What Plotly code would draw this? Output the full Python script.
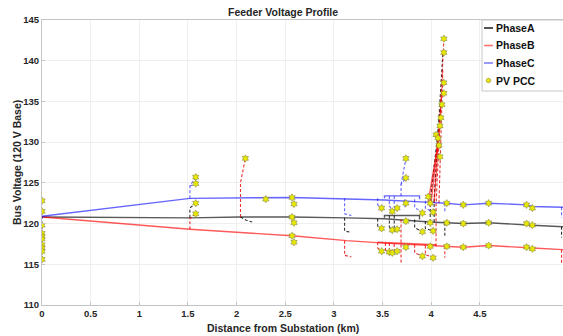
import plotly.graph_objects as go

# ---------------- data (km, volts on 120 V base) ----------------
trunkA_x = [0, 1.52, 2.04, 2.57, 3.13, 3.52, 3.99, 4.16, 4.33, 4.59, 4.98, 5.04, 5.36]
trunkA_v = [120.8, 120.7, 120.8, 120.8, 120.7, 120.6, 120.2, 120.1, 120.0, 120.1, 119.9, 119.8, 119.6]
trunkB_x = [0, 1.52, 2.57, 3.13, 3.52, 3.99, 4.16, 4.33, 4.59, 4.98, 5.04, 5.36]
trunkB_v = [120.8, 119.3, 118.5, 117.9, 117.6, 117.3, 117.2, 117.1, 117.3, 117.1, 117.0, 116.8]
trunkC_x = [0, 1.52, 2.57, 3.11, 3.52, 3.99, 4.16, 4.33, 4.59, 4.98, 5.04, 5.36]
trunkC_v = [120.9, 123.1, 123.2, 123.0, 122.9, 122.6, 122.5, 122.3, 122.5, 122.3, 122.1, 122.0]

# extra solid sections (parallel laterals)
solidA = [[(3.52, 120.7), (3.52, 121.0), (3.88, 121.0), (3.88, 120.5)]]
solidB = [[(3.45, 117.7), (4.05, 117.4)],
          [(3.97, 122.7), (4.08, 130.5)],
          [(4.00, 122.7), (4.09, 132.5)],
          [(4.03, 122.5), (4.11, 136.5)]]
solidC = [[(3.52, 123.1), (3.52, 123.4), (3.88, 123.4), (3.88, 123.0)]]

# dashed laterals
dashA = [[(1.52, 120.7), (1.52, 121.9), (1.58, 122.5)],
         [(2.04, 120.8), (2.10, 120.4), (2.16, 120.2)],
         [(3.11, 120.7), (3.11, 119.1), (3.18, 118.9)],
         [(3.45, 120.6), (3.45, 119.6), (3.49, 119.3)],
         [(3.57, 121.0), (3.57, 119.6), (3.60, 119.2)],
         [(3.62, 121.0), (3.62, 119.5), (3.65, 119.2)],
         [(3.83, 120.5), (3.83, 119.5), (3.91, 119.0)],
         [(3.94, 120.3), (3.94, 119.4), (4.02, 119.1)],
         [(3.99, 120.2), (3.99, 122.8), (4.11, 135.5)],
         [(4.03, 120.2), (4.03, 123.0), (4.12, 141.0)],
         [(4.14, 120.1), (4.14, 118.5)],
         [(5.34, 119.6), (5.34, 118.3)]]
dashB = [[(1.52, 119.3), (1.52, 120.6), (1.58, 121.2)],
         [(2.04, 120.8), (2.04, 125.0), (2.09, 128.0)],
         [(3.11, 117.9), (3.11, 116.1), (3.18, 115.9)],
         [(3.45, 117.7), (3.45, 117.0), (3.49, 116.6)],
         [(3.53, 117.6), (3.53, 116.5), (3.57, 116.5)],
         [(3.57, 117.6), (3.57, 116.8), (3.60, 116.4)],
         [(3.62, 117.5), (3.62, 116.7), (3.65, 116.6)],
         [(3.69, 120.5), (3.69, 115.2)],
         [(3.83, 117.4), (3.83, 116.4), (3.91, 116.0)],
         [(3.94, 117.3), (3.94, 116.2), (4.02, 115.8)],
         [(4.05, 117.2), (4.05, 122.3), (4.13, 142.7)],
         [(4.08, 122.5), (4.12, 139.0)],
         [(4.14, 117.2), (4.14, 115.8)],
         [(5.34, 116.8), (5.34, 115.1)]]
dashC = [[(0, 120.9), (0, 115.3)],
         [(1.52, 123.1), (1.52, 124.6), (1.58, 125.7)],
         [(1.52, 124.6), (1.58, 124.9)],
         [(3.11, 123.1), (3.11, 121.2), (3.18, 121.0)],
         [(3.45, 123.1), (3.45, 122.3), (3.49, 121.9)],
         [(3.57, 123.4), (3.57, 122.2), (3.60, 121.5)],
         [(3.62, 123.4), (3.62, 122.0), (3.65, 121.7)],
         [(3.73, 123.0), (3.73, 122.0)],
         [(3.69, 123.4), (3.69, 124.8), (3.74, 125.6)],
         [(3.69, 124.8), (3.74, 128.0)],
         [(3.83, 123.0), (3.83, 122.0), (3.91, 121.3)],
         [(3.94, 122.8), (3.94, 121.9), (4.02, 121.4)],
         [(4.14, 122.5), (4.14, 121.3)],
         [(5.34, 122.0), (5.34, 120.7)]]

# PV point-of-common-coupling buses
pv_x = [0, 0, 0, 0, 0, 0, 0, 0, 0, 0,
        1.58, 1.58, 1.58, 1.58, 2.09, 2.30,
        2.57, 2.57, 2.57, 2.59, 2.59, 2.59,
        3.49, 3.49, 3.49, 3.57, 3.60, 3.60, 3.60, 3.65, 3.65, 3.65,
        3.74, 3.74, 3.74, 3.74, 3.74,
        3.91, 3.91, 3.91, 4.02, 4.02, 4.02,
        3.97, 3.99, 3.99, 3.99,
        4.16, 4.16, 4.16, 4.33, 4.33, 4.33, 4.59, 4.59, 4.59,
        4.98, 4.98, 4.98, 5.04, 5.04, 5.04,
        4.13, 4.13, 4.13, 4.13, 4.11, 4.10, 4.09, 4.05, 4.07, 4.08, 4.09]
pv_v = [122.8, 121.5, 119.8, 118.8, 118.4, 118.1, 117.4, 117.0, 116.6, 115.6,
        125.7, 124.9, 122.5, 121.2, 128.0, 123.0,
        123.2, 120.8, 118.5, 122.4, 120.1, 117.7,
        121.9, 119.4, 116.6, 116.5, 121.5, 119.2, 116.4, 121.9, 119.3, 116.6,
        128.0, 125.6, 122.5, 120.3, 117.1,
        121.3, 119.0, 116.0, 121.4, 119.1, 115.8,
        123.3, 122.5, 120.1, 117.2,
        122.5, 120.1, 117.2, 122.3, 120.0, 117.1, 122.5, 120.1, 117.3,
        122.3, 120.0, 117.1, 121.9, 119.8, 116.9,
        142.7, 141.0, 137.3, 136.0, 134.6, 133.0, 132.0, 130.9, 130.5, 129.6, 128.2]

x_ticks = [0, 0.5, 1, 1.5, 2, 2.5, 3, 3.5, 4, 4.5]
y_ticks = [110, 115, 120, 125, 130, 135, 140, 145]
legend_names = ["PhaseA", "PhaseB", "PhaseC", "PV PCC"]

# ---------------- styling ----------------
colA = "rgba(0,0,0,0.65)"
colB = "rgba(255,0,0,0.65)"
colC = "rgba(0,0,255,0.6)"
FONT = "Liberation Sans, Arial, sans-serif"
TXT = "#262626"


def flatten(segs):
    xs, ys = [], []
    for seg in segs:
        for x, y in seg:
            xs.append(x)
            ys.append(y)
        xs.append(None)
        ys.append(None)
    return xs, ys


fig = go.Figure()
for tx, tv, solid, dash, col, dcol in [
    (trunkA_x, trunkA_v, solidA, dashA, colA, "rgba(0,0,0,0.8)"),
    (trunkB_x, trunkB_v, solidB, dashB, colB, "rgba(230,0,0,0.8)"),
    (trunkC_x, trunkC_v, solidC, dashC, colC, "rgba(0,0,255,0.6)"),
]:
    dx, dy = flatten(dash)
    fig.add_trace(go.Scatter(x=dx, y=dy, mode="lines", showlegend=False,
                             line=dict(color=dcol, width=1.1, dash="3px,2px")))
    sx, sy = flatten(solid)
    fig.add_trace(go.Scatter(x=sx, y=sy, mode="lines", showlegend=False,
                             line=dict(color=col, width=1.4)))
    fig.add_trace(go.Scatter(x=tx, y=tv, mode="lines", showlegend=False,
                             line=dict(color=col, width=1.4)))

fig.add_trace(go.Scatter(x=pv_x, y=pv_v, mode="markers", showlegend=False,
                         marker=dict(symbol="hexagram", size=5.5, color="#e8e800",
                                     line=dict(color="#8a8a40", width=0.6))))

# plot-area geometry (px): left 42, top 20, bottom 305, right 563
L, T, B, W, H = 42, 20, 305, 563, 336
pw, ph = W - L, B - T


def px(x):
    return (x - L) / pw


def py(y):
    return (B - y) / ph


shapes = []
annos = []
# legend box (runs past the right edge as in the reference)
shapes.append(dict(type="rect", xref="paper", yref="paper", x0=px(482), x1=px(600),
                   y0=py(91), y1=py(20), line=dict(color="#c8c8c8", width=1),
                   fillcolor="white", layer="above"))
leg_y = [28, 45.5, 63, 80.5]
leg_col = ["rgba(0,0,0,0.85)", "rgba(255,0,0,0.55)", "rgba(0,0,255,0.5)"]
for i, name in enumerate(legend_names):
    if i < 3:
        shapes.append(dict(type="line", xref="paper", yref="paper",
                           x0=px(484), x1=px(493), y0=py(leg_y[i]), y1=py(leg_y[i]),
                           line=dict(color=leg_col[i], width=1.6), layer="above"))
    else:
        shapes.append(dict(type="circle", xref="paper", yref="paper",
                           xsizemode="pixel", ysizemode="pixel",
                           xanchor=px(488.5), yanchor=py(leg_y[i]),
                           x0=-2.2, x1=2.2, y0=-2.2, y1=2.2,
                           fillcolor="#e8e800", line=dict(color="#8a8a40", width=0.6),
                           layer="above"))
    annos.append(dict(text=name, xref="paper", yref="paper", x=px(494), y=py(leg_y[i]),
                      xanchor="left", yanchor="middle", showarrow=False,
                      font=dict(family=FONT, size=10.5, color="#111", weight="bold")))

annos.append(dict(text="Distance from Substation (km)", xref="paper", yref="paper",
                  x=px(283), y=py(328), xanchor="center", yanchor="middle", showarrow=False,
                  font=dict(family=FONT, size=10.5, color=TXT, weight="bold")))
annos.append(dict(text="Bus Voltage (120 V Base)", xref="paper", yref="paper",
                  x=px(17), y=py(163), xanchor="center", yanchor="middle", showarrow=False,
                  textangle=-90, font=dict(family=FONT, size=10.5, color=TXT, weight="bold")))
annos.append(dict(text="Feeder Voltage Profile", xref="paper", yref="paper",
                  x=px(283), y=py(12), xanchor="center", yanchor="middle", showarrow=False,
                  font=dict(family=FONT, size=10.5, color=TXT, weight="bold")))

fig.update_layout(
    width=W, height=H,
    margin=dict(l=L, r=0, t=T, b=H - B),
    paper_bgcolor="white", plot_bgcolor="white",
    showlegend=False,
    shapes=shapes, annotations=annos,
    font=dict(family=FONT, color=TXT),
)
fig.update_xaxes(range=[0, (W - L) / 97.3], tickvals=x_ticks,
                 ticktext=[f"{t:g}" for t in x_ticks],
                 showgrid=True, gridcolor="#efefef", gridwidth=1,
                 showline=True, linecolor="#c4c4c4", linewidth=1, mirror=True,
                 ticks="inside", ticklen=3, tickcolor="#c4c4c4",
                 tickfont=dict(family=FONT, size=9.5, color=TXT, weight="bold"),
                 zeroline=False)
fig.update_yaxes(range=[110, 145], tickvals=y_ticks,
                 showgrid=True, gridcolor="#efefef", gridwidth=1,
                 showline=True, linecolor="#c4c4c4", linewidth=1, mirror=False,
                 ticks="inside", ticklen=3, tickcolor="#c4c4c4",
                 tickfont=dict(family=FONT, size=9.5, color=TXT, weight="bold"),
                 zeroline=False)

fig.write_html("out.html")
